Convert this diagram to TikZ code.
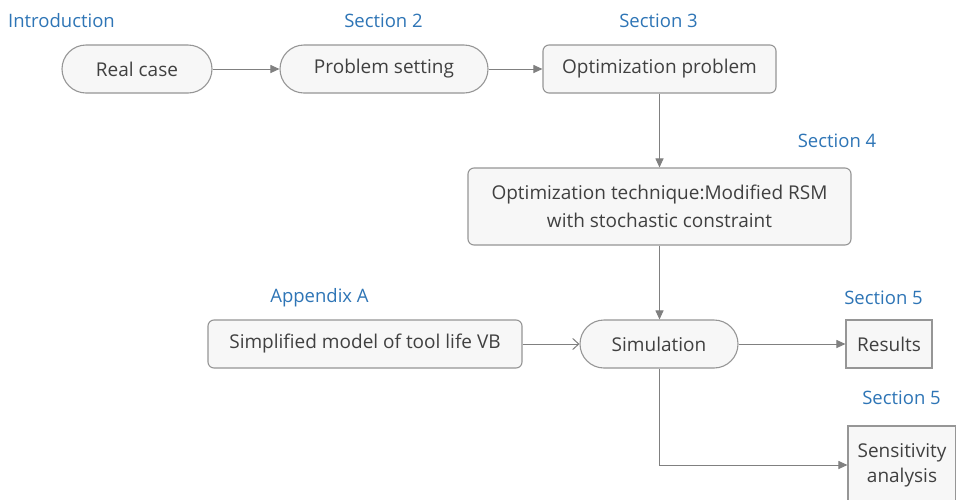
\documentclass[tikz,border=0pt]{standalone}
\usepackage{fontspec}
\setmainfont{Open Sans}
\usetikzlibrary{arrows.meta}
\definecolor{secblue}{RGB}{46,117,182}
\definecolor{boxfill}{RGB}{247,247,247}
\definecolor{boxline}{RGB}{150,150,150}
\definecolor{txt}{RGB}{64,64,64}
\definecolor{conn}{RGB}{128,128,128}
\begin{document}
\begin{tikzpicture}[x=1pt,y=-1pt,
 box/.style={draw=boxline, fill=boxfill, line width=1.1pt, text=txt, font=\fontsize{19}{28}\selectfont, inner sep=0pt, align=center},
 stadium/.style={box, rounded corners=24pt},
 rbox/.style={box, rounded corners=6pt},
 sbox/.style={box},
 sec/.style={text=secblue, font=\fontsize{18.5}{22}\selectfont, inner sep=0pt},
 arr/.style={draw=conn, line width=1pt, -{Triangle[length=9pt,width=8pt]}},
 oarr/.style={draw=conn, line width=1pt, -{Straight Barb[length=6pt,width=11pt]}}
 ]
\useasboundingbox (0,0) rectangle (956,499);
\fill[white] (0,0) rectangle (956,499);
\clip (0,0) rectangle (956,499);

\node[stadium, minimum width=150pt, minimum height=48pt] (real) at (137,69) {Real case};
\node[stadium, minimum width=208pt, minimum height=48pt] (prob) at (384,69) {Problem setting};
\node[rbox, minimum width=233pt, minimum height=48pt] (opt) at (659.5,69) {Optimization problem};
\node[rbox, minimum width=383pt, minimum height=77pt] (tech) at (659.5,206.5) {Optimization technique:Modified RSM\\with stochastic constraint};
\node[rbox, minimum width=314pt, minimum height=48pt] (simp) at (365,344) {Simplified model of tool life VB};
\node[stadium, minimum width=158pt, minimum height=48pt] (sim) at (659,344) {Simulation};
\node[sbox, minimum width=86pt, minimum height=48pt] (res) at (889,344) {Results};
\node[sbox, minimum width=108pt, minimum height=78pt, font=\fontsize{19}{25}\selectfont] (sens) at (902,465) {Sensitivity\\analysis};

\node[sec] (l1) at (61.5,21) {Introduction};
\node[sec] (l2) at (383.5,21) {Section 2};
\node[sec] (l3) at (658.5,21) {Section 3};
\node[sec] (l4) at (837,141) {Section 4};
\node[sec] (l5) at (319.5,298) {Appendix A};
\node[sec] (l6) at (883.5,298) {Section 5};
\node[sec] (l7) at (901.5,398) {Section 5};

\draw[arr] (real.east) -- (prob.west);
\draw[arr] (prob.east) -- (opt.west);
\draw[arr] (opt.south) -- (tech.north);
\draw[arr] (tech.south) -- (tech.south |- sim.north);
\draw[oarr] (simp.east) -- (sim.west);
\draw[arr] (sim.east) -- (res.west);
\draw[arr] (sim.south) |- (sens.west);
\end{tikzpicture}
\end{document}
